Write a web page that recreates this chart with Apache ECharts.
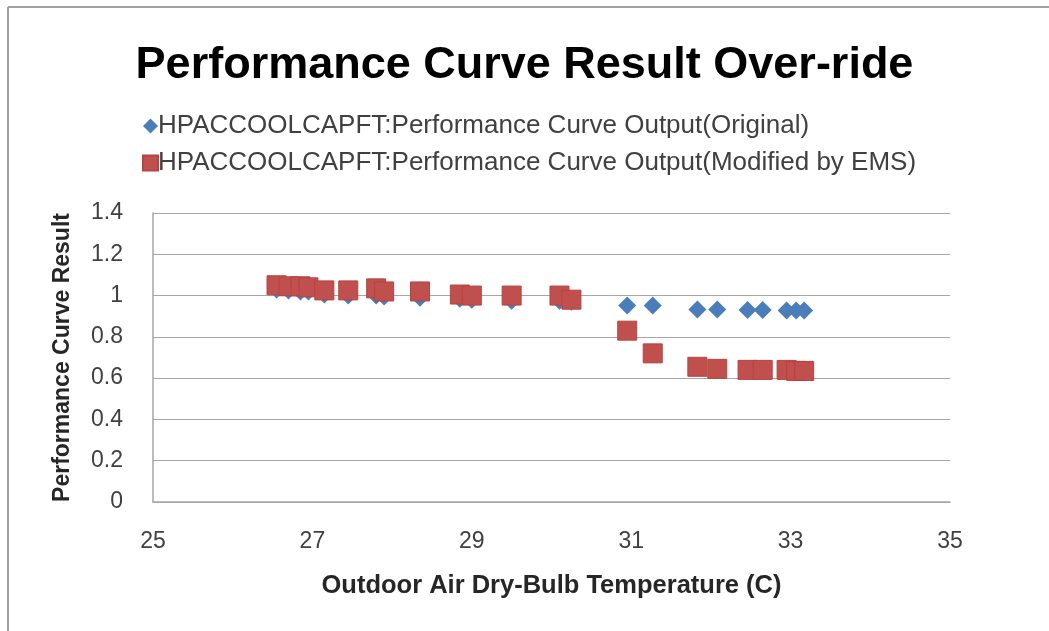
<!DOCTYPE html>
<html>
<head>
<meta charset="utf-8">
<script src="https://cdn.jsdelivr.net/npm/echarts@6/dist/echarts.min.js"></script>
<style>
  html, body { margin: 0; padding: 0; background: #fff; }
  #chart { width: 1049px; height: 631px; }
</style>
</head>
<body>
<div id="chart"></div>
<script>
  // outdoor dry-bulb temperatures (C)
  var temps = [26.55, 26.7, 26.85, 26.95, 27.15, 27.45, 27.8, 27.9, 28.35, 28.85, 29.0, 29.5, 30.1, 30.25,
               30.95, 31.27, 31.83, 32.08, 32.46, 32.65, 32.95, 33.07, 33.17];
  // original curve output
  var original = [1.03, 1.025, 1.02, 1.02, 1.005, 1.0, 1.0, 0.995, 0.99, 0.985, 0.98, 0.975, 0.975, 0.97,
                  0.952, 0.952, 0.932, 0.932, 0.93, 0.93, 0.928, 0.928, 0.928];
  // modified by EMS
  var modified = [1.05, 1.045, 1.045, 1.04, 1.025, 1.025, 1.035, 1.02, 1.02, 1.005, 1.0, 1.0, 1.0, 0.98,
                  0.83, 0.72, 0.655, 0.645, 0.64, 0.64, 0.64, 0.635, 0.635];
  var yTicks = [0, 0.2, 0.4, 0.6, 0.8, 1, 1.2, 1.4];

  var nameOrig = 'HPACCOOLCAPFT:Performance Curve Output(Original)';
  var nameMod = 'HPACCOOLCAPFT:Performance Curve Output(Modified by EMS)';

  function pairs(xs, ys) {
    var out = [];
    for (var i = 0; i < xs.length; i++) out.push([xs[i], ys[i]]);
    return out;
  }

  var myChart = echarts.init(document.getElementById('chart'));
  var font = 'Liberation Sans, Arial, sans-serif';

  var option = {
    animation: false,
    textStyle: { fontFamily: font },
    title: {
      text: 'Performance Curve Result Over-ride',
      left: 'center',
      top: 38,
      textStyle: { fontSize: 45, fontWeight: 'bold', color: '#000', fontFamily: font }
    },
    legend: {
      orient: 'vertical',
      left: 137,
      top: 108,
      itemGap: 11,
      itemWidth: 15,
      itemHeight: 15,
      textStyle: { fontSize: 26, color: '#404040', padding: [0, 0, 0, -5] },
      data: [
        { name: nameOrig, icon: 'diamond', itemStyle: { color: '#4A7EBB' } },
        { name: nameMod, icon: 'rect', itemStyle: { color: '#C0504D' } }
      ]
    },
    graphic: [
      { type: 'line', shape: { x1: 8, y1: 7, x2: 1049, y2: 7 }, style: { stroke: '#a0a0a0', lineWidth: 2 } },
      { type: 'line', shape: { x1: 8, y1: 7, x2: 8, y2: 631 }, style: { stroke: '#a0a0a0', lineWidth: 2 } }
    ],
    grid: { left: 153, right: 99, top: 213, bottom: 129 },
    xAxis: {
      type: 'value',
      min: 25, max: 35, interval: 2,
      name: 'Outdoor Air Dry-Bulb Temperature (C)',
      nameLocation: 'middle',
      nameGap: 71,
      nameTextStyle: { fontSize: 25.5, fontWeight: 'bold', color: '#262626' },
      axisLine: { show: true, lineStyle: { color: '#a6a6a6', width: 1.5 } },
      axisTick: { show: false },
      splitLine: { show: false },
      axisLabel: { fontSize: 23, color: '#404040', margin: 28 }
    },
    yAxis: {
      type: 'value',
      min: 0, max: 1.4, interval: 0.2,
      name: 'Performance Curve Result',
      nameLocation: 'middle',
      nameGap: 79,
      nameTextStyle: { fontSize: 23, fontWeight: 'bold', color: '#262626' },
      axisLine: { show: true, lineStyle: { color: '#a6a6a6', width: 1.5 } },
      axisTick: { show: false },
      splitLine: { lineStyle: { color: '#a6a6a6', width: 1.2 } },
      axisLabel: {
        fontSize: 23, color: '#404040', margin: 30,
        formatter: function (v) {
          for (var i = 0; i < yTicks.length; i++) {
            if (Math.abs(v - yTicks[i]) < 1e-6) return String(yTicks[i]);
          }
          return '';
        }
      }
    },
    series: [
      {
        name: nameOrig,
        type: 'scatter',
        symbol: 'diamond',
        symbolSize: [18, 18],
        itemStyle: { color: '#4A7EBB', opacity: 1 },
        data: pairs(temps, original)
      },
      {
        name: nameMod,
        type: 'scatter',
        symbol: 'rect',
        symbolSize: 19,
        itemStyle: { color: '#C0504D', borderColor: '#B8433F', borderWidth: 1, opacity: 1 },
        data: pairs(temps, modified)
      }
    ]
  };

  myChart.setOption(option);
</script>
</body>
</html>
